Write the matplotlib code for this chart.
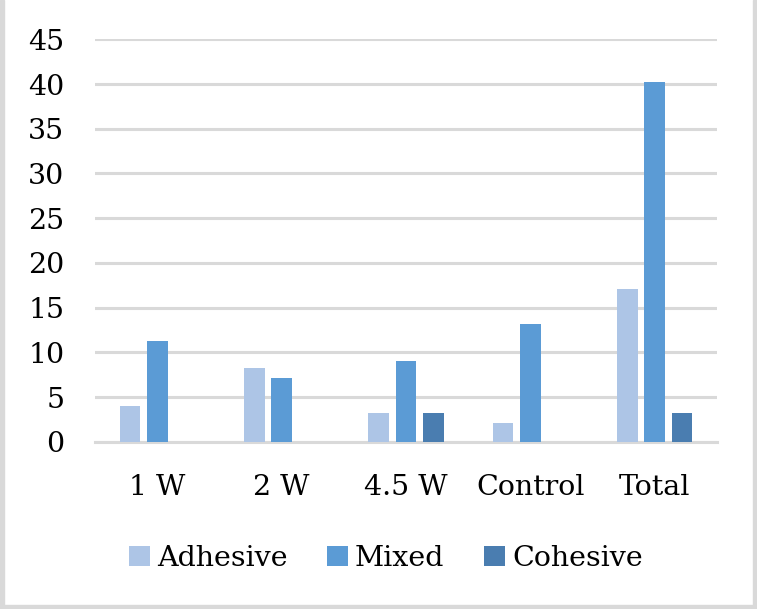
import numpy as np
import matplotlib.pyplot as plt
from matplotlib.patches import Rectangle

# Values
categories = ['1 W', '2 W', '4.5 W', 'Control', 'Total']
adhesive = [4.0, 8.2, 3.2, 2.1, 17.1]
mixed = [11.3, 7.1, 9.0, 13.2, 40.2]
cohesive = [0, 0, 3.2, 0, 3.2]
y_ticks = [0, 5, 10, 15, 20, 25, 30, 35, 40, 45]

plt.rcParams['font.family'] = ['DejaVu Serif']

fig = plt.figure(figsize=(7.57, 6.09), dpi=100)
ax = fig.add_axes([0.1255, 0.2745, 0.8215, 0.661])

x = np.arange(len(categories))
w = 0.166
step = 0.22
ax.bar(x - step, adhesive, w, color='#adc5e6', label='Adhesive', zorder=3)
ax.bar(x, mixed, w, color='#5b9bd5', label='Mixed', zorder=3)
ax.bar(x + step, cohesive, w, color='#4a7db0', label='Cohesive', zorder=3)

ax.set_xlim(-0.5, len(categories) - 0.5)
ax.set_ylim(0, 45)
ax.set_yticks(y_ticks)
ax.set_yticklabels([str(t) for t in y_ticks])
ax.set_xticks(x)
ax.set_xticklabels(categories)
ax.tick_params(axis='y', length=0, pad=22, labelsize=20.5)
ax.tick_params(axis='x', length=0, pad=23, labelsize=20.5)
ax.yaxis.grid(True, color='#d9d9d9', linewidth=2.2, zorder=0)
for s in ax.spines.values():
    s.set_visible(False)
ax.axhline(0, color='#d9d9d9', linewidth=2.2, zorder=2, clip_on=False)

leg = ax.legend(loc='center', bbox_to_anchor=(0.468, -0.289), ncol=3,
                frameon=False, fontsize=20.5, handlelength=0.72, handleheight=0.72,
                handletextpad=0.25, columnspacing=1.4)

# gray frame on left, right, bottom
fig.patches.append(Rectangle((0, 0), 4 / 757, 1, transform=fig.transFigure, color='#d9d9d9'))
fig.patches.append(Rectangle((1 - 4 / 757, 0), 4 / 757, 1, transform=fig.transFigure, color='#d9d9d9'))
fig.patches.append(Rectangle((0, 0), 1, 4 / 609, transform=fig.transFigure, color='#d9d9d9'))

fig.savefig('out.png', dpi=100)
